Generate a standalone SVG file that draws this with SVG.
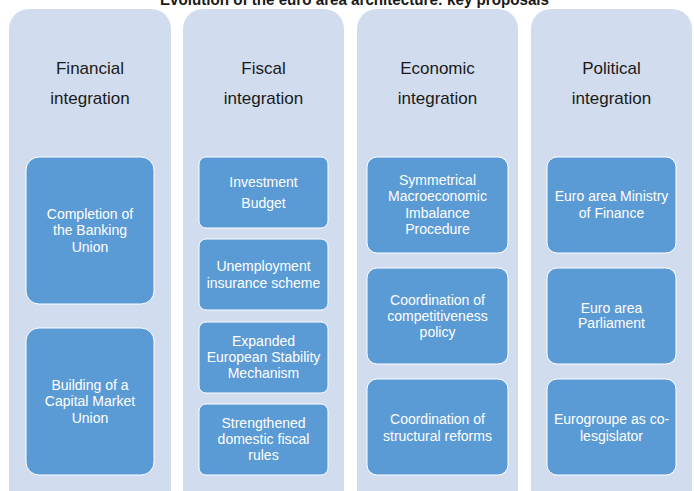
<svg xmlns="http://www.w3.org/2000/svg" width="694" height="491" viewBox="0 0 694 491">
  <style>
    .col { fill: #d1ddee; }
    .box { fill: #5b9bd5; stroke: #ffffff; stroke-width: 1; }
    .head { font-family: "Liberation Sans", Arial, sans-serif; font-size: 17px; fill: #1a1a1a; text-anchor: middle; }
    .lbl { font-family: "Liberation Sans", Arial, sans-serif; font-size: 14px; fill: #ffffff; text-anchor: middle; }
    .title { font-family: "Liberation Sans", Arial, sans-serif; font-size: 16px; font-weight: bold; fill: #1a1a1a; text-anchor: middle; }
  </style>
  <rect width="694" height="491" fill="#ffffff"/>

  <text class="title" x="354.5" y="4.5" textLength="389" lengthAdjust="spacingAndGlyphs">Evolution of the euro area architecture: key proposals</text>

  <!-- Column backgrounds with headings -->
  <g id="financial">
    <rect class="col" x="9" y="9" width="162" height="510" rx="20"/>
    <text class="head" x="90" y="74">Financial</text>
    <text class="head" x="90" y="104">integration</text>
  </g>
  <g id="fiscal">
    <rect class="col" x="183" y="9" width="161" height="510" rx="20"/>
    <text class="head" x="263.5" y="74">Fiscal</text>
    <text class="head" x="263.5" y="104">integration</text>
  </g>
  <g id="economic">
    <rect class="col" x="357" y="9" width="161" height="510" rx="20"/>
    <text class="head" x="437.5" y="74">Economic</text>
    <text class="head" x="437.5" y="104">integration</text>
  </g>
  <g id="political">
    <rect class="col" x="531" y="9" width="161" height="510" rx="20"/>
    <text class="head" x="611.5" y="74">Political</text>
    <text class="head" x="611.5" y="104">integration</text>
  </g>

  <!-- Financial integration items -->
  <g id="banking-union">
    <rect class="box" x="26" y="157" width="128" height="147" rx="13"/>
    <text class="lbl" x="90" y="219">Completion of</text>
    <text class="lbl" x="90" y="235.3">the Banking</text>
    <text class="lbl" x="90" y="251.6">Union</text>
  </g>
  <g id="capital-market-union">
    <rect class="box" x="26" y="328" width="128" height="147" rx="13"/>
    <text class="lbl" x="90" y="390">Building of a</text>
    <text class="lbl" x="90" y="406.3">Capital Market</text>
    <text class="lbl" x="90" y="422.6">Union</text>
  </g>

  <!-- Fiscal integration items -->
  <g id="investment-budget">
    <rect class="box" x="199" y="157" width="129" height="71" rx="7"/>
    <text class="lbl" x="263.5" y="186.5">Investment</text>
    <text class="lbl" x="263.5" y="207.5">Budget</text>
  </g>
  <g id="unemployment-insurance">
    <rect class="box" x="199" y="239" width="129" height="71" rx="7"/>
    <text class="lbl" x="263.5" y="271">Unemployment</text>
    <text class="lbl" x="263.5" y="287.6">insurance scheme</text>
  </g>
  <g id="expanded-esm">
    <rect class="box" x="199" y="322" width="129" height="71" rx="7"/>
    <text class="lbl" x="263.5" y="346">Expanded</text>
    <text class="lbl" x="263.5" y="362.2">European Stability</text>
    <text class="lbl" x="263.5" y="378.4">Mechanism</text>
  </g>
  <g id="fiscal-rules">
    <rect class="box" x="199" y="404" width="129" height="71" rx="7"/>
    <text class="lbl" x="263.5" y="427.7">Strengthened</text>
    <text class="lbl" x="263.5" y="444">domestic fiscal</text>
    <text class="lbl" x="263.5" y="460.2">rules</text>
  </g>

  <!-- Economic integration items -->
  <g id="macro-imbalance">
    <rect class="box" x="367" y="157" width="141" height="96" rx="10"/>
    <text class="lbl" x="437.5" y="185">Symmetrical</text>
    <text class="lbl" x="437.5" y="201.2">Macroeconomic</text>
    <text class="lbl" x="437.5" y="217.5">Imbalance</text>
    <text class="lbl" x="437.5" y="233.7">Procedure</text>
  </g>
  <g id="competitiveness">
    <rect class="box" x="367" y="268" width="141" height="96" rx="10"/>
    <text class="lbl" x="437.5" y="305">Coordination of</text>
    <text class="lbl" x="437.5" y="321">competitiveness</text>
    <text class="lbl" x="437.5" y="337.2">policy</text>
  </g>
  <g id="structural-reforms">
    <rect class="box" x="367" y="379" width="141" height="96" rx="10"/>
    <text class="lbl" x="437.5" y="424">Coordination of</text>
    <text class="lbl" x="437.5" y="440.5">structural reforms</text>
  </g>

  <!-- Political integration items -->
  <g id="ministry-of-finance">
    <rect class="box" x="547" y="157" width="129" height="96" rx="10"/>
    <text class="lbl" x="611.5" y="201">Euro area Ministry</text>
    <text class="lbl" x="611.5" y="217.5">of Finance</text>
  </g>
  <g id="parliament">
    <rect class="box" x="547" y="268" width="129" height="96" rx="10"/>
    <text class="lbl" x="611.5" y="312.5">Euro area</text>
    <text class="lbl" x="611.5" y="328.3">Parliament</text>
  </g>
  <g id="eurogroup">
    <rect class="box" x="547" y="379" width="129" height="96" rx="10"/>
    <text class="lbl" x="611.5" y="424">Eurogroupe as co-</text>
    <text class="lbl" x="611.5" y="440.5">lesgislator</text>
  </g>

  <g id="connectors"/>
</svg>
